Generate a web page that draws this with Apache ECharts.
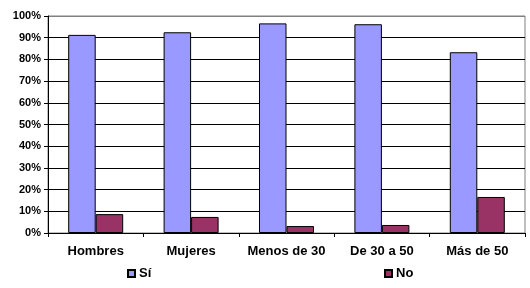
<!DOCTYPE html>
<html>
<head>
<meta charset="utf-8">
<script src="https://cdn.jsdelivr.net/npm/echarts@6/dist/echarts.min.js"></script>
<style>html,body{margin:0;padding:0;background:#fff}#c{width:530px;height:288px}</style>
</head>
<body>
<div id="c"></div>
<script>
const categories = ['Hombres', 'Mujeres', 'Menos de 30', 'De 30 a 50', 'Más de 50'];
const si = [91.3, 92.5, 96.6, 96.2, 83.3];
const no = [8.7, 7.4, 3.2, 3.7, 16.6];
const seriesNames = ['Sí', 'No'];

const chart = echarts.init(document.getElementById('c'), null, {renderer: 'canvas'});
const font = 'Liberation Sans, Arial, sans-serif';
const gridColors = ['#000','#000','#000','#000','#000','#000','#000','#000','#000','#000','#808080'];
chart.setOption({
  animation: false,
  backgroundColor: '#fff',
  grid: {left: 48, right: 5, top: 16, bottom: 55, show: true, borderColor: '#808080', borderWidth: 1, backgroundColor: 'transparent'},
  legend: [
    {data: [seriesNames[0]], left: 122, top: 262, icon: 'rect', itemWidth: 7, itemHeight: 7, itemGap: 4,
     textStyle: {fontFamily: font, fontWeight: 'bold', fontSize: 13, color: '#000', padding: [0,0,0,-1]}},
    {data: [seriesNames[1]], left: 379, top: 262, icon: 'rect', itemWidth: 7, itemHeight: 7, itemGap: 4,
     textStyle: {fontFamily: font, fontWeight: 'bold', fontSize: 13, color: '#000', padding: [0,0,0,-1]}}
  ],
  xAxis: {
    type: 'category', data: categories,
    axisLine: {lineStyle: {color: '#000', width: 1}},
    axisTick: {show: true, alignWithLabel: false, interval: 0, length: 4, lineStyle: {color: '#000'}},
    axisLabel: {interval: 0, fontFamily: font, fontWeight: 'bold', fontSize: 13, color: '#000', margin: 12}
  },
  yAxis: {
    type: 'value', min: 0, max: 100, interval: 10,
    axisLine: {show: true, lineStyle: {color: '#000', width: 1}},
    axisTick: {show: true, length: 4, lineStyle: {color: '#000'}},
    axisLabel: {formatter: '{value}%', fontFamily: font, fontWeight: 'bold', fontSize: 11, color: '#000', margin: 7},
    splitLine: {show: true, lineStyle: {color: gridColors, width: 1}}
  },
  series: [
    {name: seriesNames[0], type: 'bar', data: si, barWidth: 27.5, barGap: '0%',
     itemStyle: {color: '#9999FF', borderColor: '#000', borderWidth: 1}},
    {name: seriesNames[1], type: 'bar', data: no, barWidth: 27.5, barGap: '0%',
     itemStyle: {color: '#993366', borderColor: '#000', borderWidth: 1}}
  ]
});
</script>
</body>
</html>
